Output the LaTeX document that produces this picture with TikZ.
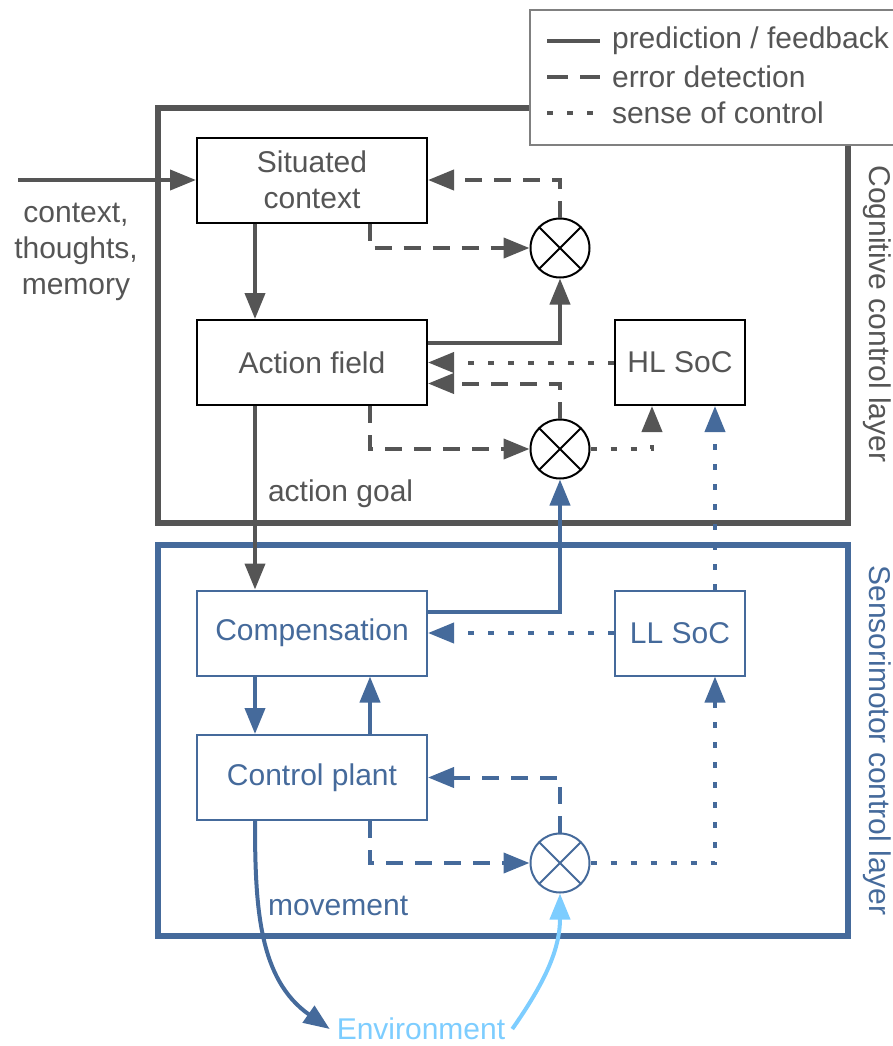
\documentclass[tikz,border=0pt]{standalone}
\usepackage{fontspec}
\setmainfont{Liberation Sans}
\usetikzlibrary{positioning}
\usetikzlibrary{arrows.meta}

\definecolor{coggray}{RGB}{85,85,85}
\definecolor{smblue}{RGB}{69,106,155}
\definecolor{envblue}{RGB}{125,205,255}

\begin{document}
\begin{tikzpicture}[
	x=0.5pt, y=-0.5pt,
	every node/.style={font=\fontsize{15pt}{18pt}\selectfont},
	block/.style={draw, line width=1pt, minimum width=115pt, minimum height=42.5pt, align=center},
	socbox/.style={block, minimum width=65pt},
	cmp/.style={circle, draw=#1, line width=1pt, minimum size=29.5pt, inner sep=0pt, fill=white,
		path picture={\draw[#1, line width=1pt] (path picture bounding box.north west) -- (path picture bounding box.south east)
			(path picture bounding box.north east) -- (path picture bounding box.south west);}},
	cmp/.default=black,
	pred/.style={-{Triangle[length=13pt, width=10pt]}, line width=2pt},
	err/.style={pred, dash pattern=on 8.5pt off 6pt},
	sense/.style={pred, dash pattern=on 3pt off 7pt},
	layer/.style={line width=2.8pt},
]
	\useasboundingbox (0,0) rectangle (893,1046);

	\draw[layer, coggray] (158,108) rectangle (848,523);
	\draw[layer, smblue] (158,545) rectangle (848,936);

	\coordinate (xL) at (255,0);
	\coordinate (xR) at (370,0);
	\coordinate (xH) at (652,0);
	\coordinate (xS) at (715,0);
	\coordinate (src) at (18,180);

	\node[block, text=coggray] (sit) at (312,180) {Situated\\context};
	\node[block, text=coggray] (act) at (312,362.5) {Action field};
	\node[socbox, text=coggray] (hl) at (680,362.5) {HL SoC};
	\node[block, smblue] (comp) at (312,633) {Compensation};
	\node[socbox, smblue] (ll) at (680,633) {LL SoC};
	\node[block, smblue] (plant) at (312,777.5) {Control plant};

	\node[cmp] (cmp1) at (560,248) {};
	\node[cmp] (cmp2) at (560,449) {};
	\node[cmp=smblue] (cmp3) at (560,863) {};

	\node[align=center, text=coggray] (ctx) at (76,252) {context,\\thoughts,\\memory};
	\node[anchor=west, text=coggray] (goal) at (261,494) {action goal};
	\node[anchor=west, text=smblue] (mov) at (261,906) {movement};
	\node[text=envblue] (env) at (421,1029) {Environment};

	\node[rotate=-90, anchor=west, inner sep=0pt, text=coggray] (coglbl) at (877,165) {Cognitive control layer};
	\node[rotate=-90, anchor=west, inner sep=0pt, text=smblue] (smlbl) at (877,565) {Sensorimotor control layer};

	\draw[pred, coggray] (src) -- (src -| sit.west);
	\draw[pred, coggray] (sit.south -| xL) -- (act.north -| xL);
	\draw[err, coggray] (sit.south -| xR) |- (cmp1);
	\draw[err, coggray] (cmp1) |- (sit);
	\draw[pred, coggray] ([yshift=10pt]act.east) -| (cmp1);
	\draw[sense, coggray] (hl) -- (act);
	\draw[err, coggray] (cmp2) |- ([yshift=-10.5pt]act.east);
	\draw[err, coggray] (act.south -| xR) |- (cmp2);
	\draw[sense, coggray] (cmp2) -| (hl.south -| xH);
	\draw[pred, coggray] (act.south -| xL) -- (comp.north -| xL);

	\draw[pred, smblue] ([yshift=10.5pt]comp.east) -| (cmp2);
	\draw[sense, smblue] (ll.north -| xS) -- (hl.south -| xS);
	\draw[sense, smblue] (ll) -- (comp);
	\draw[pred, smblue] (comp.south -| xL) -- (plant.north -| xL);
	\draw[pred, smblue] (plant.north -| xR) -- (comp.south -| xR);
	\draw[err, smblue] (cmp3) |- (plant);
	\draw[err, smblue] (plant.south -| xR) |- (cmp3);
	\draw[sense, smblue] (cmp3) -| (ll.south -| xS);
	\draw[pred, smblue] (plant.south -| xL) to[out=-90, in=145] (env.west);
	\draw[pred, envblue] (env.east) to[out=55, in=-90] (cmp3);

	\draw[line width=1pt, gray, fill=white] (893,10) -- (530,10) -- (530,145) -- (893,145);
	\draw[line width=2pt, coggray] (547,41) -- (600,41);
	\draw[line width=2pt, coggray, dash pattern=on 10.5pt off 6pt] (547,77) -- (600,77);
	\draw[line width=2pt, coggray, dash pattern=on 3pt off 7pt] (547,113) -- (600,113);
	\node[anchor=west, text=coggray] (lgpred) at (605,41) {prediction / feedback};
	\node[anchor=west, text=coggray] (lgerr) at (605,77) {error detection};
	\node[anchor=west, text=coggray] (lgsense) at (605,113) {sense of control};
\end{tikzpicture}
\end{document}
